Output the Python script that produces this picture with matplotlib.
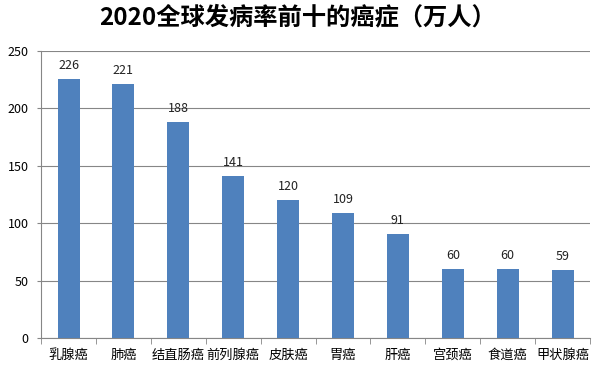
import matplotlib.pyplot as plt

plt.rcParams['font.family'] = ['Noto Sans CJK SC', 'DejaVu Sans']

cancers = ["乳腺癌", "肺癌", "结直肠癌", "前列腺癌", "皮肤癌", "胃癌", "肝癌", "宫颈癌", "食道癌", "甲状腺癌"]
cases = [226, 221, 188, 141, 120, 109, 91, 60, 60, 59]

fig = plt.figure(figsize=(5.96, 3.73), dpi=100)
ax = fig.add_axes([0.069, 0.094, 0.921, 0.769])

x = list(range(len(cancers)))
bars = ax.bar(x, cases, width=0.4, color='#4F81BD', zorder=3)
for xi, v in zip(x, cases):
    ax.text(xi, v + 6, str(v), ha='center', va='bottom', fontsize=9, color='#222222')

ax.set_xlim(-0.5, len(cancers) - 0.5)
ax.set_ylim(0, 250)
ax.set_yticks(range(0, 251, 50))
ax.tick_params(axis='y', labelsize=9, length=3, color='#868686', pad=6)
ax.set_xticks(x)
ax.set_xticklabels(cancers, fontsize=9.5)
ax.set_xticks([i - 0.5 for i in range(len(cancers) + 1)], minor=True)
ax.tick_params(axis='x', which='major', length=0, pad=8)
ax.tick_params(axis='x', which='minor', length=4, color='#868686')
ax.grid(axis='y', color='#868686', linewidth=0.8, zorder=0)
for s in ['top', 'right']:
    ax.spines[s].set_visible(False)
for s in ['left', 'bottom']:
    ax.spines[s].set_color('#868686')

fig.suptitle("2020全球发病率前十的癌症（万人）", y=0.985, fontsize=17.5, fontweight='bold')

fig.savefig("out.png", dpi=100)
